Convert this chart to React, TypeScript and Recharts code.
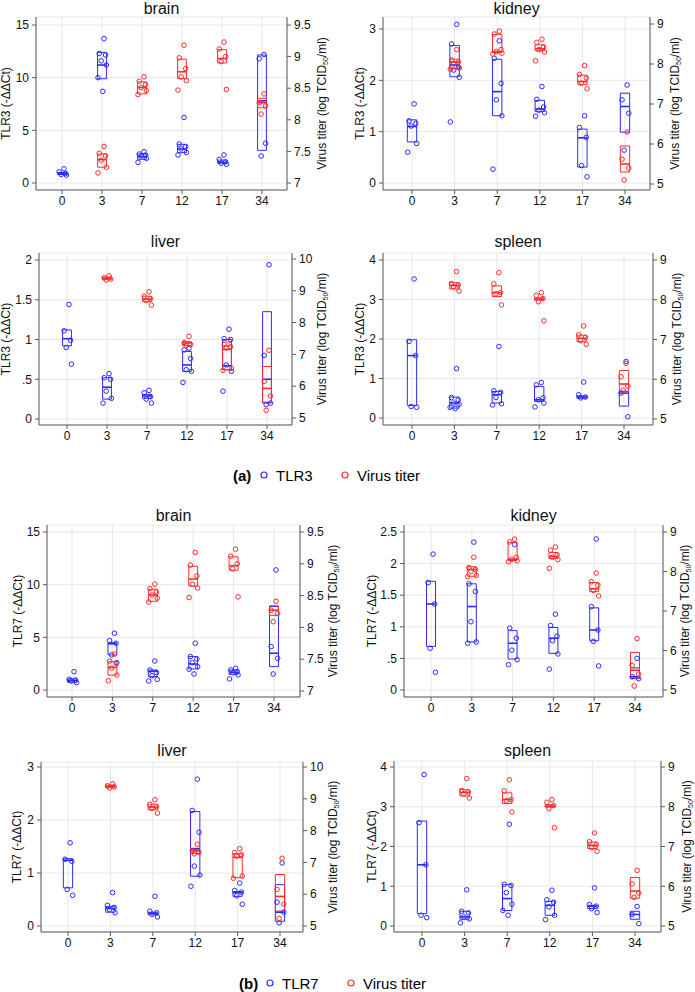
import {
  ComposedChart,
  Scatter,
  XAxis,
  YAxis,
  CartesianGrid,
  ReferenceArea,
  ReferenceLine,
} from "recharts";

// days post infection (categories)
const DAYS = ["0", "3", "7", "12", "17", "34"];

// ---- TLR3 (panel a): dots per day, box = [q1, median, q3] per day ----
const brainTlr3 = [
  [1.35, 1.05, 0.9, 0.8, 0.75],
  [13.7, 12.3, 12.15, 11.6, 11.2, 10.0, 8.7],
  [2.97, 2.75, 2.65, 2.56, 2.34, 1.96],
  [6.23, 3.7, 3.45, 3.23, 2.9, 2.66],
  [2.66, 2.25, 2.0, 1.87, 1.77],
  [12.2, 11.8, 3.77, 2.56],
];
const brainTlr3Box = [
  [0.8, 0.9, 1.0],
  [9.9, 11.2, 12.4],
  [2.25, 2.5, 2.75],
  [2.88, 3.23, 3.67],
  [1.87, 1.96, 2.18],
  [3.1, 7.8, 12.15],
];

const kidneyTlr3 = [
  [1.54, 1.21, 1.16, 1.11, 0.77, 0.6],
  [3.09, 2.71, 2.26, 2.2, 2.06, 1.19],
  [2.77, 2.43, 1.94, 1.62, 1.31, 0.27],
  [1.88, 1.63, 1.48, 1.42, 1.37, 1.3],
  [1.31, 1.08, 0.89, 0.34, 0.12],
  [1.91, 1.62, 1.36, 0.64],
];
const kidneyTlr3Box = [
  [0.8, 1.1, 1.23],
  [2.07, 2.3, 2.68],
  [1.31, 1.78, 2.41],
  [1.39, 1.44, 1.61],
  [0.31, 0.88, 1.05],
  [0.99, 1.49, 1.75],
];

const liverTlr3 = [
  [1.44, 1.11, 0.99, 0.9, 0.69],
  [0.57, 0.52, 0.5, 0.35, 0.26, 0.2],
  [0.36, 0.33, 0.28, 0.25, 0.2],
  [0.89, 0.87, 0.76, 0.62, 0.6, 0.46],
  [1.13, 1.01, 1.0, 0.68, 0.6, 0.35],
  [1.94, 0.8, 0.2, 0.18],
];
const liverTlr3Box = [
  [0.92, 1.01, 1.12],
  [0.25, 0.4, 0.52],
  [0.26, 0.29, 0.31],
  [0.6, 0.68, 0.85],
  [0.62, 0.67, 1.0],
  [0.21, 0.5, 1.35],
];

const spleenTlr3 = [
  [3.52, 1.94, 1.58, 0.29, 0.27],
  [1.25, 0.52, 0.46, 0.38, 0.35, 0.27, 0.24],
  [1.81, 0.69, 0.65, 0.52, 0.36, 0.33],
  [0.9, 0.84, 0.51, 0.46, 0.38, 0.28],
  [0.91, 0.59, 0.53, 0.51],
  [1.43, 0.63, 0.03],
];
const spleenTlr3Box = [
  [0.32, 1.58, 1.98],
  [0.25, 0.38, 0.53],
  [0.38, 0.59, 0.67],
  [0.42, 0.46, 0.8],
  [0.5, 0.53, 0.56],
  [0.3, 0.63, 0.67],
];

// ---- TLR7 (panel b) ----
const brainTlr7 = [
  [1.74, 1.01, 0.95, 0.86, 0.7],
  [5.39, 4.69, 4.44, 3.33, 2.6],
  [2.75, 1.9, 1.65, 1.36, 1.01, 0.86],
  [4.44, 3.17, 2.95, 2.6, 2.22, 1.97, 1.52],
  [2.06, 1.9, 1.74, 1.65, 1.43, 1.05],
  [11.4, 4.12, 3.01, 1.52],
];
const brainTlr7Box = [
  [0.73, 0.89, 1.05],
  [3.33, 4.38, 4.5],
  [1.27, 1.78, 1.9],
  [2.0, 2.47, 3.17],
  [1.49, 1.68, 1.9],
  [2.22, 3.49, 7.93],
];

const kidneyTlr7 = [
  [2.15, 1.7, 1.36, 0.66, 0.28],
  [2.34, 1.68, 1.56, 1.08, 0.76, 0.74],
  [2.3, 0.98, 0.82, 0.63, 0.48, 0.4],
  [1.2, 1.02, 0.85, 0.78, 0.57, 0.33],
  [2.39, 1.32, 0.95, 0.77, 0.38],
  [0.5, 0.21, 0.18],
];
const kidneyTlr7Box = [
  [0.69, 1.36, 1.72],
  [0.76, 1.32, 1.68],
  [0.49, 0.74, 0.94],
  [0.58, 0.82, 0.99],
  [0.78, 0.95, 1.3],
  [0.18, 0.21, 0.35],
];

const liverTlr7 = [
  [1.57, 1.26, 1.22, 0.69, 0.58],
  [0.63, 0.39, 0.35, 0.31, 0.25],
  [0.56, 0.28, 0.25, 0.22, 0.17],
  [2.77, 2.18, 1.77, 1.13, 0.96, 0.75],
  [0.81, 0.67, 0.64, 0.57, 0.41],
  [1.19, 0.45, 0.26, 0.06],
];
const liverTlr7Box = [
  [0.72, 1.24, 1.27],
  [0.26, 0.33, 0.37],
  [0.21, 0.24, 0.26],
  [0.94, 1.46, 2.16],
  [0.56, 0.63, 0.65],
  [0.09, 0.26, 0.78],
];

const spleenTlr7 = [
  [3.81, 2.6, 1.54, 0.27, 0.21],
  [0.91, 0.37, 0.33, 0.23, 0.18, 0.08],
  [2.56, 1.05, 1.02, 0.84, 0.55, 0.39, 0.27],
  [0.9, 0.66, 0.6, 0.48, 0.27, 0.16],
  [0.96, 0.54, 0.5, 0.44, 0.34],
  [0.49, 0.29, 0.06],
];
const spleenTlr7Box = [
  [0.31, 1.54, 2.64],
  [0.17, 0.23, 0.37],
  [0.39, 0.69, 1.04],
  [0.27, 0.52, 0.62],
  [0.44, 0.5, 0.52],
  [0.17, 0.29, 0.37],
];

// ---- virus titer (log TCID50/ml), same animals in a and b ----
const brainVirus = [
  [],
  [7.58, 7.47, 7.43, 7.36, 7.25, 7.16],
  [8.68, 8.61, 8.56, 8.51, 8.46, 8.4],
  [9.18, 8.98, 8.81, 8.68, 8.62, 8.47],
  [9.23, 9.12, 9.0, 8.92, 8.48],
  [8.41, 8.27, 8.22, 8.09],
];
const brainVirusBox = [
  null,
  [7.25, 7.37, 7.46],
  [8.41, 8.51, 8.6],
  [8.65, 8.76, 8.96],
  [8.9, 8.97, 9.11],
  [8.19, 8.27, 8.34],
];

const kidneyVirus = [
  [],
  [8.36, 8.1, 8.05, 8.0, 7.9, 7.87],
  [8.82, 8.75, 8.36, 8.31, 8.27, 8.25],
  [8.62, 8.54, 8.42, 8.36, 8.3, 8.08],
  [7.96, 7.74, 7.65, 7.52, 7.38],
  [6.3, 5.62, 5.4, 5.1],
];
const kidneyVirusBox = [
  null,
  [7.88, 8.05, 8.12],
  [8.28, 8.31, 8.74],
  [8.33, 8.38, 8.48],
  [7.49, 7.56, 7.72],
  [5.3, 5.5, 5.95],
];

const liverVirus = [
  [],
  [9.47, 9.41, 9.37, 9.34],
  [8.97, 8.83, 8.75, 8.69, 8.55],
  [7.57, 7.37, 7.31, 7.27],
  [7.43, 7.31, 7.24, 7.2, 6.57, 6.5],
  [7.13, 6.15, 5.69, 5.24],
];
const liverVirusBox = [
  null,
  [9.35, 9.39, 9.43],
  [8.66, 8.74, 8.83],
  [7.28, 7.36, 7.4],
  [6.52, 7.16, 7.27],
  [5.47, 5.93, 6.62],
];

const spleenVirus = [
  [],
  [8.71, 8.41, 8.37, 8.33, 8.22],
  [8.68, 8.4, 8.18, 8.15, 7.87],
  [8.18, 8.11, 8.03, 7.95, 7.47],
  [7.34, 7.12, 7.05, 6.97, 6.88],
  [6.4, 6.06, 5.83, 5.72],
];
const spleenVirusBox = [
  null,
  [8.27, 8.36, 8.43],
  [8.08, 8.18, 8.35],
  [7.99, 8.02, 8.05],
  [6.95, 7.03, 7.11],
  [5.7, 5.88, 6.22],
];

const BLUE = "#2b2bff";
const RED = "#ff2b2b";
const GRID = "#e8e8e8";
const AXIS = "#5a5a5a";
const FONT = "'Liberation Sans', Arial, Helvetica, sans-serif";

// horizontal spread of the dots inside a day, in category units
const JITTER = [0.05, -0.07, 0.09, -0.02, 0.11, -0.1, 0.02, -0.05];
const HALF_BOX = 0.11;
const PAD_TOP = 10;

const TICKS_BRAIN_L = [0, 5, 10, 15];
const TICKS_BRAIN_R = [7, 7.5, 8, 8.5, 9, 9.5];

const panels = [
  { title: "brain", gene: "TLR3", tlr: brainTlr3, tlrBox: brainTlr3Box, vir: brainVirus, virBox: brainVirusBox,
    L: 36, R: 287, T: 17, B: 190, x0: 62, x5: 262, lt: TICKS_BRAIN_L, lTop: 25, lBot: 183, rt: TICKS_BRAIN_R, rTop: 25, rBot: 183, ty: 8, lx: 6, rx: 322 },
  { title: "kidney", gene: "TLR3", tlr: kidneyTlr3, tlrBox: kidneyTlr3Box, vir: kidneyVirus, virBox: kidneyVirusBox,
    L: 383, R: 650, T: 17, B: 190, x0: 412, x5: 625, lt: [0, 1, 2, 3], lTop: 29, lBot: 183, rt: [5, 6, 7, 8, 9], rTop: 24, rBot: 184, ty: 8, lx: 360, rx: 675 },
  { title: "liver", gene: "TLR3", tlr: liverTlr3, tlrBox: liverTlr3Box, vir: liverVirus, virBox: liverVirusBox,
    L: 39, R: 292, T: 253, B: 425, x0: 67, x5: 267, lt: [0, 0.5, 1, 1.5, 2], lTop: 260, lBot: 419, rt: [5, 6, 7, 8, 9, 10], rTop: 259, rBot: 418, ty: 241, lx: 6, rx: 322 },
  { title: "spleen", gene: "TLR3", tlr: spleenTlr3, tlrBox: spleenTlr3Box, vir: spleenVirus, virBox: spleenVirusBox,
    L: 383, R: 653, T: 253, B: 425, x0: 412, x5: 624, lt: [0, 1, 2, 3, 4], lTop: 260, lBot: 418, rt: [5, 6, 7, 8, 9], rTop: 260, rBot: 419, ty: 241, lx: 360, rx: 677 },
  { title: "brain", gene: "TLR7", tlr: brainTlr7, tlrBox: brainTlr7Box, vir: brainVirus, virBox: brainVirusBox,
    L: 47, R: 300, T: 525, B: 697, x0: 72, x5: 274, lt: TICKS_BRAIN_L, lTop: 532, lBot: 690, rt: TICKS_BRAIN_R, rTop: 532, rBot: 691, ty: 515, lx: 18, rx: 333 },
  { title: "kidney", gene: "TLR7", tlr: kidneyTlr7, tlrBox: kidneyTlr7Box, vir: kidneyVirus, virBox: kidneyVirusBox,
    L: 404, R: 663, T: 525, B: 697, x0: 431, x5: 635, lt: [0, 0.5, 1, 1.5, 2, 2.5], lTop: 532, lBot: 690, rt: [5, 6, 7, 8, 9], rTop: 532, rBot: 690, ty: 515, lx: 372, rx: 685 },
  { title: "liver", gene: "TLR7", tlr: liverTlr7, tlrBox: liverTlr7Box, vir: liverVirus, virBox: liverVirusBox,
    L: 41, R: 303, T: 762, B: 932, x0: 68, x5: 280, lt: [0, 1, 2, 3], lTop: 767, lBot: 926, rt: [5, 6, 7, 8, 9, 10], rTop: 767, rBot: 926, ty: 750, lx: 17, rx: 333 },
  { title: "spleen", gene: "TLR7", tlr: spleenTlr7, tlrBox: spleenTlr7Box, vir: spleenVirus, virBox: spleenVirusBox,
    L: 394, R: 661, T: 761, B: 932, x0: 422, x5: 635, lt: [0, 1, 2, 3, 4], lTop: 767, lBot: 926, rt: [5, 6, 7, 8, 9], rTop: 767, rBot: 926, ty: 750, lx: 372, rx: 687 },
];

// axis range so that the measured tick pixels land where they are in the figure
function yRange(ticks: number[], pTop: number, pBot: number, T: number, B: number) {
  const lo = ticks[0];
  const hi = ticks[ticks.length - 1];
  const k = (pBot - pTop) / (hi - lo);
  return [lo - (B - pBot) / k, hi + (pTop - T) / k];
}

function xRange(p: any) {
  const s = (p.x5 - p.x0) / 5;
  return [-(p.x0 - p.L) / s, 5 + (p.R - p.x5) / s];
}

const fmt = (v: number) => String(v).replace(/^0\./, ".");

function toPoints(days: number[][]) {
  const out: { x: number; y: number }[] = [];
  days.forEach((vals, d) =>
    vals.forEach((v, j) => out.push({ x: d + JITTER[j % JITTER.length], y: v }))
  );
  return out;
}

const ring = (color: string) => (props: any) => (
  <circle cx={props.cx} cy={props.cy} r={2.3} fill="none" stroke={color} strokeWidth={1} />
);
const blueRing = ring(BLUE);
const redRing = ring(RED);

function boxes(stats: (number[] | null)[], axis: string, color: string) {
  const els: any[] = [];
  stats.forEach((b, d) => {
    if (!b) return;
    els.push(
      <ReferenceArea
        key={axis + "a" + d}
        yAxisId={axis}
        x1={d - HALF_BOX}
        x2={d + HALF_BOX}
        y1={b[0]}
        y2={b[2]}
        fill="none"
        fillOpacity={0}
        stroke={color}
        strokeWidth={1}
        ifOverflow="visible"
      />
    );
    els.push(
      <ReferenceLine
        key={axis + "m" + d}
        yAxisId={axis}
        segment={[{ x: d - HALF_BOX, y: b[1] }, { x: d + HALF_BOX, y: b[1] }]}
        stroke={color}
        strokeWidth={1.6}
        ifOverflow="visible"
      />
    );
  });
  return els;
}

function Panel({ p }: { p: any }) {
  const width = p.R - p.L + 80;
  const height = p.B - p.T + 30 + PAD_TOP;
  const tick = { fill: "#111", fontSize: 12 };
  return (
    <div style={{ position: "absolute", left: p.L - 40, top: p.T - PAD_TOP, width, height }}>
      <ComposedChart width={width} height={height} margin={{ top: PAD_TOP, right: 0, bottom: 0, left: 0 }}>
        <CartesianGrid yAxisId="left" stroke={GRID} />
        <XAxis
          type="number"
          dataKey="x"
          domain={xRange(p)}
          ticks={[0, 1, 2, 3, 4, 5]}
          tickFormatter={(i: number) => DAYS[i]}
          allowDataOverflow
          interval={0}
          height={30}
          tickSize={4}
          stroke={AXIS}
          tick={tick}
        />
        <YAxis
          yAxisId="left"
          orientation="left"
          type="number"
          domain={yRange(p.lt, p.lTop, p.lBot, p.T, p.B)}
          ticks={p.lt}
          tickFormatter={fmt}
          allowDataOverflow
          interval={0}
          width={40}
          tickSize={4}
          tickMargin={3}
          stroke={AXIS}
          tick={tick}
        />
        <YAxis
          yAxisId="right"
          orientation="right"
          type="number"
          domain={yRange(p.rt, p.rTop, p.rBot, p.T, p.B)}
          ticks={p.rt}
          allowDataOverflow
          interval={0}
          width={40}
          tickSize={4}
          tickMargin={3}
          stroke={AXIS}
          tick={tick}
        />
        {boxes(p.tlrBox, "left", BLUE)}
        {boxes(p.virBox, "right", RED)}
        <Scatter data={toPoints(p.tlr)} dataKey="y" yAxisId="left" shape={blueRing} isAnimationActive={false} />
        <Scatter data={toPoints(p.vir)} dataKey="y" yAxisId="right" shape={redRing} isAnimationActive={false} />
      </ComposedChart>
    </div>
  );
}

function Legend({ tag, gene, x, y }: { tag: string; gene: string; x: number; y: number }) {
  return (
    <g fontFamily={FONT}>
      <text x={x} y={y} fontSize={15} fontWeight="bold" dominantBaseline="central">{tag}</text>
      <circle cx={x + 31} cy={y} r={3} fill="none" stroke={BLUE} strokeWidth={1.2} />
      <text x={x + 43} y={y} fontSize={15} dominantBaseline="central">{gene}</text>
      <circle cx={x + 112} cy={y} r={3} fill="none" stroke={RED} strokeWidth={1.2} />
      <text x={x + 124} y={y} fontSize={15} dominantBaseline="central">Virus titer</text>
    </g>
  );
}

export default function App() {
  return (
    <div style={{ position: "absolute", left: 0, top: 0, width: 695, height: 992, background: "#fff", fontFamily: FONT }}>
      {panels.map((p, i) => (
        <Panel key={i} p={p} />
      ))}
      <svg width={695} height={992} style={{ position: "absolute", left: 0, top: 0, pointerEvents: "none" }}>
        {panels.map((p, i) => {
          const cy = (p.T + p.B) / 2;
          return (
            <g key={i} fontFamily={FONT} fill="#111">
              <text x={(p.L + p.R) / 2} y={p.ty} fontSize={16} textAnchor="middle" dominantBaseline="central">
                {p.title}
              </text>
              <text x={p.lx} y={cy} fontSize={12} textAnchor="middle" dominantBaseline="central" transform={`rotate(-90 ${p.lx} ${cy})`}>
                {p.gene} (-ΔΔCt)
              </text>
              <text x={p.rx} y={cy} fontSize={12} textAnchor="middle" dominantBaseline="central" transform={`rotate(-90 ${p.rx} ${cy})`}>
                Virus titer (log TCID<tspan fontSize={7} dy={3}>50</tspan>
                <tspan dy={-3}>/ml)</tspan>
              </text>
            </g>
          );
        })}
        <Legend tag="(a)" gene="TLR3" x={233} y={475} />
        <Legend tag="(b)" gene="TLR7" x={239} y={983} />
      </svg>
    </div>
  );
}
